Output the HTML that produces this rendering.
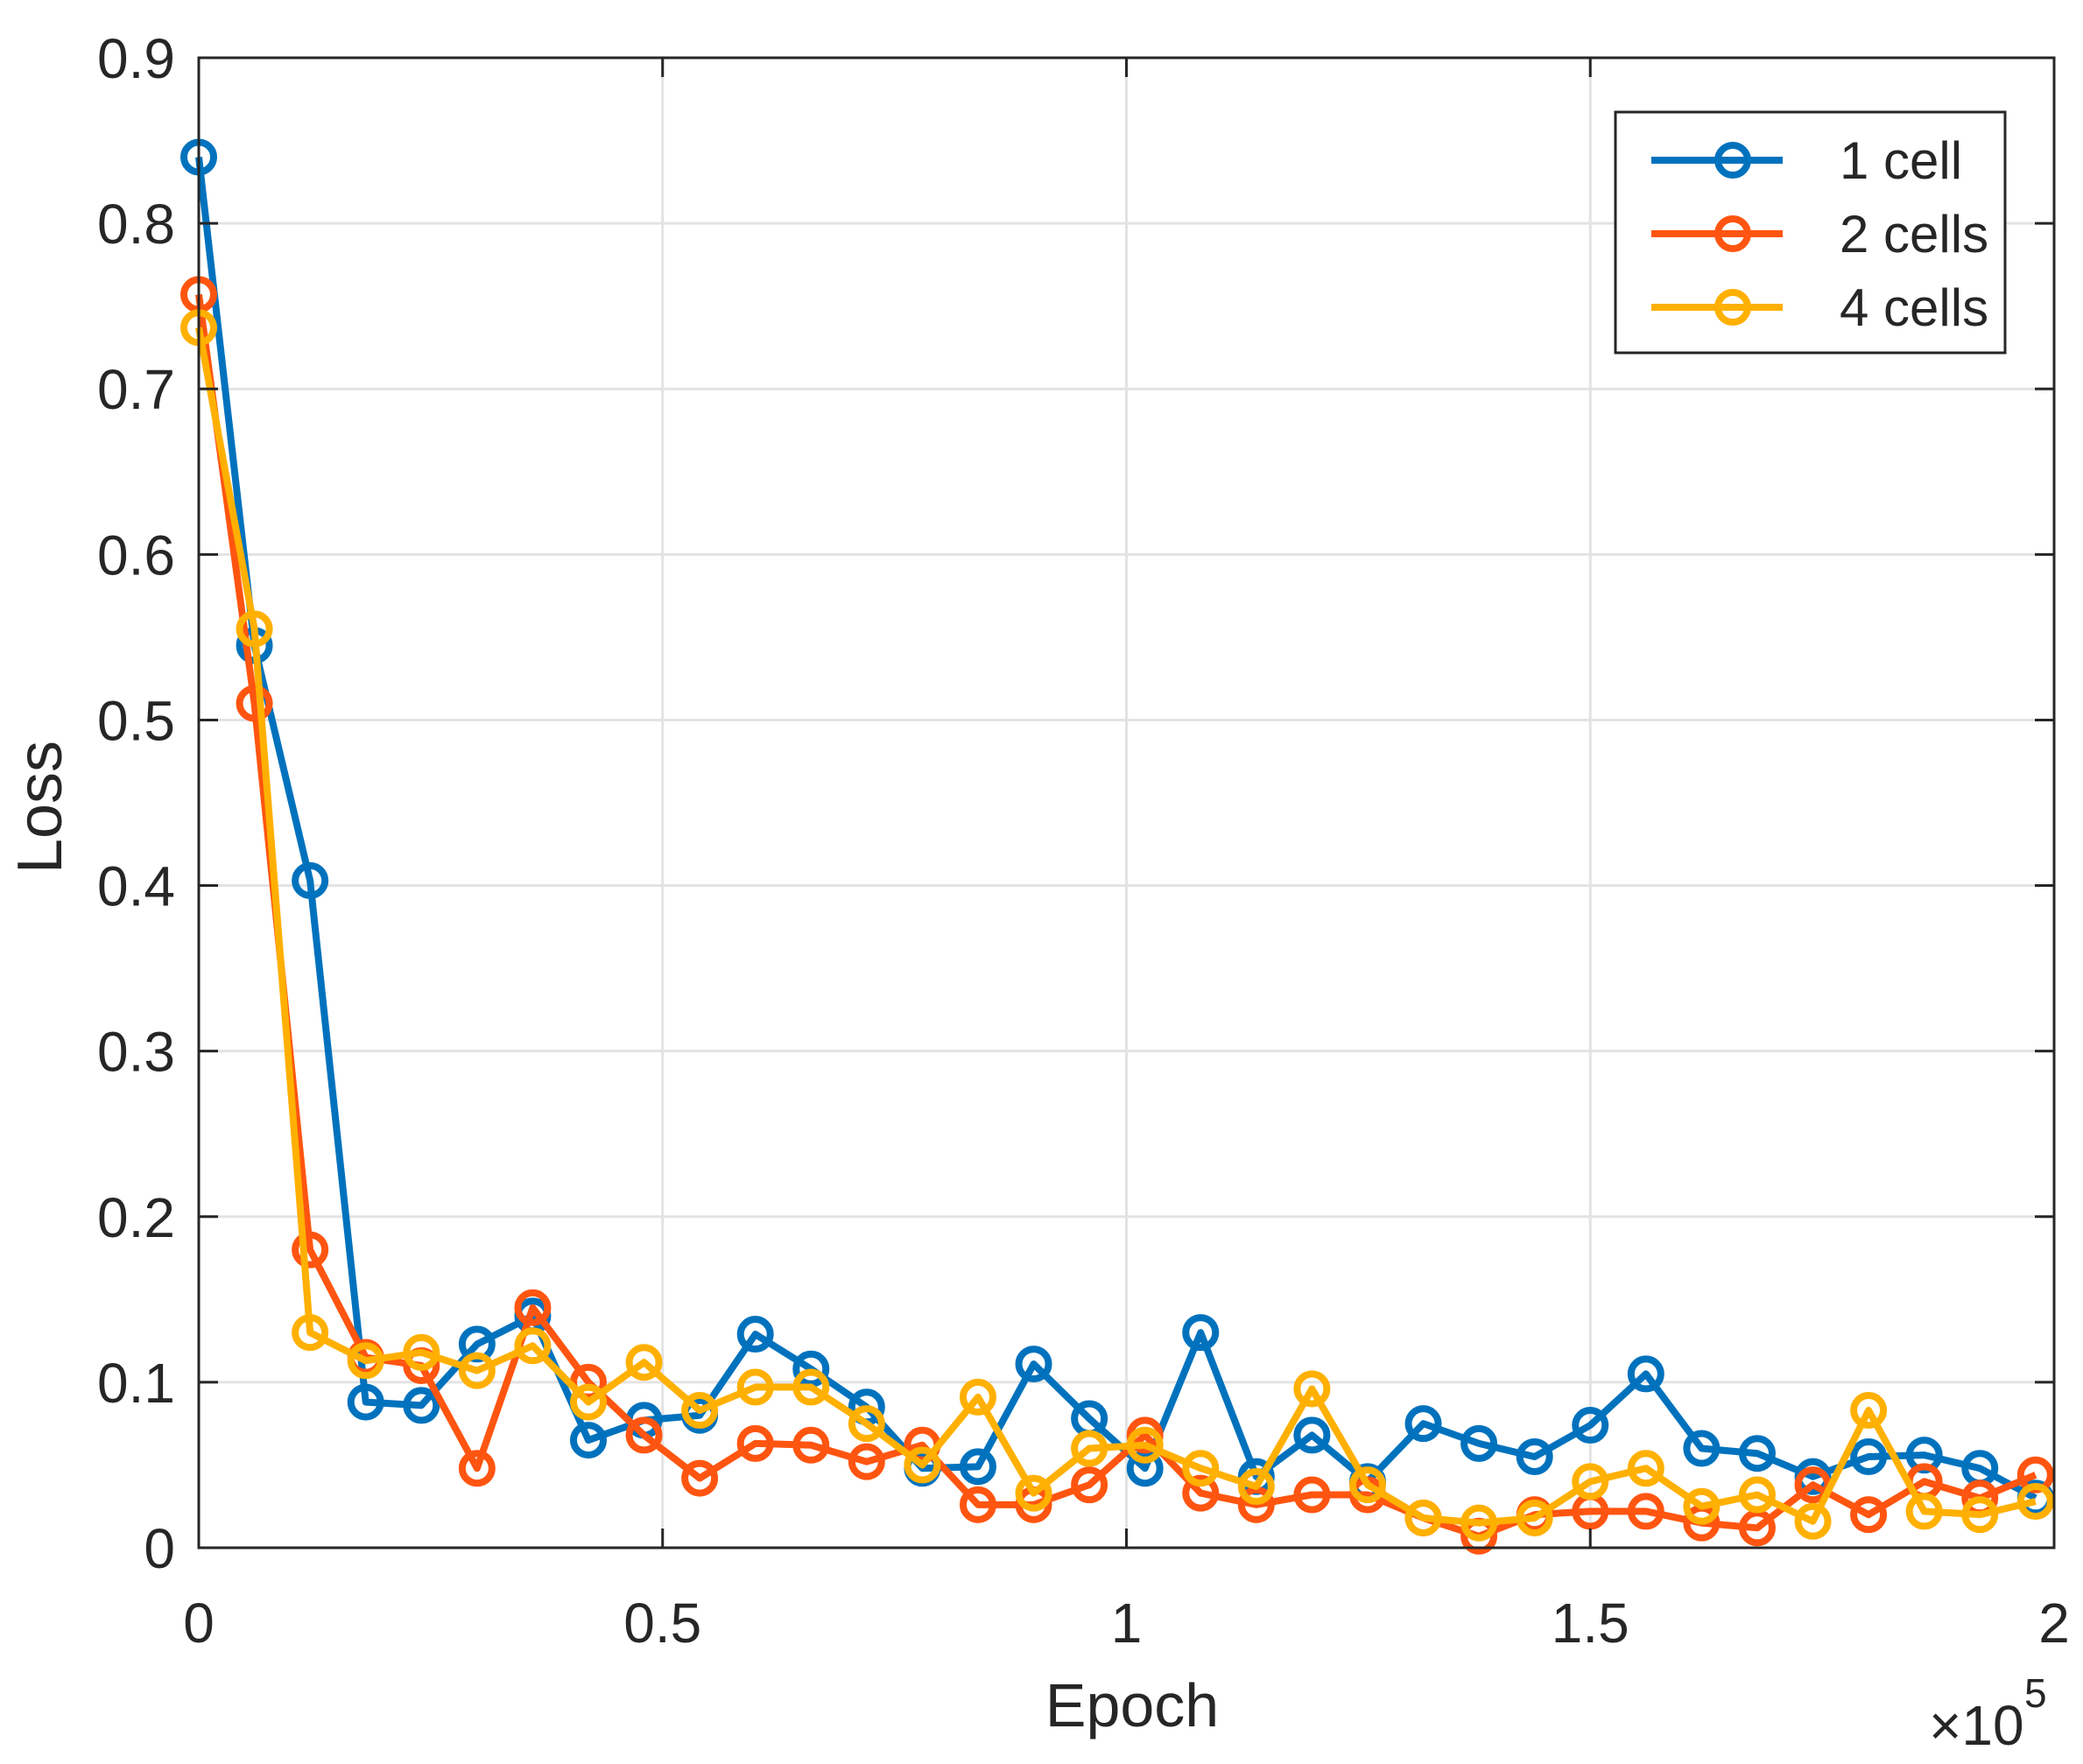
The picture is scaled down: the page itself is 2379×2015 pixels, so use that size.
<!DOCTYPE html>
<html><head><meta charset="utf-8"><style>
html,body{margin:0;padding:0;background:#fff;}
svg{display:block;font-family:"Liberation Sans",Arial,sans-serif;}
</style></head><body>
<svg id="chart" width="2379" height="2015" viewBox="0 0 2379 2015" xmlns="http://www.w3.org/2000/svg">
<rect x="0" y="0" width="2379" height="2015" fill="#fff"/>
<g id="grid"></g>
<g id="series"></g>
<g id="axes"></g>
<g id="legend"></g>
</svg>
<script>
const epochs = [0,0.06,0.12,0.18,0.24,0.30,0.36,0.42,0.48,0.54,0.60,0.66,0.72,0.78,0.84,0.90,0.96,1.02,1.08,1.14,1.20,1.26,1.32,1.38,1.44,1.50,1.56,1.62,1.68,1.74,1.80,1.86,1.92,1.98];
const loss1 = [0.84,0.545,0.403,0.088,0.086,0.123,0.14,0.065,0.077,0.08,0.129,0.108,0.085,0.048,0.049,0.111,0.078,0.048,0.13,0.043,0.068,0.04,0.075,0.063,0.055,0.074,0.105,0.06,0.057,0.043,0.055,0.056,0.048,0.03];
const loss2 = [0.757,0.51,0.18,0.115,0.11,0.048,0.145,0.1,0.068,0.042,0.063,0.062,0.052,0.062,0.026,0.026,0.038,0.068,0.033,0.026,0.032,0.032,0.018,0.007,0.02,0.022,0.022,0.015,0.012,0.038,0.02,0.04,0.03,0.044];
const loss4 = [0.737,0.555,0.13,0.113,0.118,0.107,0.122,0.088,0.112,0.083,0.097,0.097,0.075,0.05,0.091,0.033,0.06,0.062,0.048,0.037,0.096,0.038,0.018,0.015,0.018,0.04,0.048,0.025,0.032,0.016,0.083,0.022,0.02,0.028];
const xTicks = [0,0.5,1,1.5,2];
const xTickLabels = ["0","0.5","1","1.5","2"];
const yTicks = [0,0.1,0.2,0.3,0.4,0.5,0.6,0.7,0.8,0.9];
const yTickLabels = ["0","0.1","0.2","0.3","0.4","0.5","0.6","0.7","0.8","0.9"];
const seriesNames = ["1 cell","2 cells","4 cells"];

const L=227,R=2346,T=66,B=1768;
const NS="http://www.w3.org/2000/svg";
function sx(v){return L+(v-0)/(2-0)*(R-L);}
function sy(v){return B-(v-0)/(0.9-0)*(B-T);}
function mk(tag,attrs,parent){const e=document.createElementNS(NS,tag);for(const k in attrs)e.setAttribute(k,attrs[k]);parent.appendChild(e);return e;}
const grid=document.getElementById('grid'),axes=document.getElementById('axes'),ser=document.getElementById('series'),leg=document.getElementById('legend');

xTicks.forEach((t,i)=>{
  const x=sx(t);
  if(i>0&&i<xTicks.length-1){const g=mk('line',{x1:x,y1:T,x2:x,y2:B,stroke:'#e3e3e3','stroke-width':3},grid);
  
  }
  const tk=mk('line',{x1:x,y1:B,x2:x,y2:B-22,stroke:'#262626','stroke-width':3},axes);
  
  
  const tk2=mk('line',{x1:x,y1:T,x2:x,y2:T+22,stroke:'#262626','stroke-width':3},axes);
  
  
  const lb=mk('text',{x:x,y:1876,'font-size':64,'text-anchor':'middle',fill:'#262626'},axes);
  lb.textContent=xTickLabels[i];
  
  
});
yTicks.forEach((t,i)=>{
  const y=sy(t);
  if(i>0&&i<yTicks.length-1){const g=mk('line',{x1:L,y1:y,x2:R,y2:y,stroke:'#e3e3e3','stroke-width':3},grid);
  
  }
  const tk=mk('line',{x1:L,y1:y,x2:L+22,y2:y,stroke:'#262626','stroke-width':3},axes);
  
  
  const tk2=mk('line',{x1:R,y1:y,x2:R-22,y2:y,stroke:'#262626','stroke-width':3},axes);
  
  
  const lb=mk('text',{x:200,y:y+23,'font-size':64,'text-anchor':'end',fill:'#262626'},axes);
  lb.textContent=yTickLabels[i];
  
  
});
const box=mk('rect',{x:L,y:T,width:R-L,height:B-T,fill:'none',stroke:'#262626','stroke-width':3},axes);


const xt=mk('text',{x:1293,y:1972,'font-size':70,'text-anchor':'middle',fill:'#262626'},axes);
xt.textContent='Epoch';


const yt=mk('text',{x:0,y:0,'font-size':72,'text-anchor':'middle',fill:'#262626',transform:'translate(70,922) rotate(-90)'},axes);
yt.textContent='Loss';


const ex=mk('text',{x:2203,y:1993,'font-size':64,fill:'#262626'},axes);
ex.textContent='×10';


const ex5=mk('text',{x:2312,y:1950,'font-size':46,fill:'#262626'},axes);
ex5.textContent='5';



const colors=['#0072BD','#FF5510','#FFB000'];
[loss1,loss2,loss4].forEach((vals,si)=>{
  const g=mk('g',{},ser);
  
  
  const pts=vals.map((v,i)=>sx(epochs[i])+','+sy(v)).join(' ');
  const pl=mk('polyline',{points:pts,fill:'none',stroke:colors[si],'stroke-width':8,'stroke-linejoin':'round'},g);
  
  
  vals.forEach((v,i)=>{
    const c=mk('circle',{cx:sx(epochs[i]),cy:sy(v),r:17,fill:'none',stroke:colors[si],'stroke-width':8},g);
    
    
  });
});

const lb=mk('rect',{x:1845,y:128,width:445,height:275,fill:'#fff',stroke:'#262626','stroke-width':3},leg);


seriesNames.forEach((n,i)=>{
  const y=183+i*84;
  const g=mk('g',{},leg);
  
  
  mk('line',{x1:1886,y1:y,x2:2036,y2:y,stroke:colors[i],'stroke-width':8},g);
  mk('circle',{cx:1979,cy:y,r:17,fill:'none',stroke:colors[i],'stroke-width':8},g);
  const t=mk('text',{x:2101,y:y+21,'font-size':60,fill:'#262626'},g);
  t.textContent=n;
});
</script>
</body></html>
